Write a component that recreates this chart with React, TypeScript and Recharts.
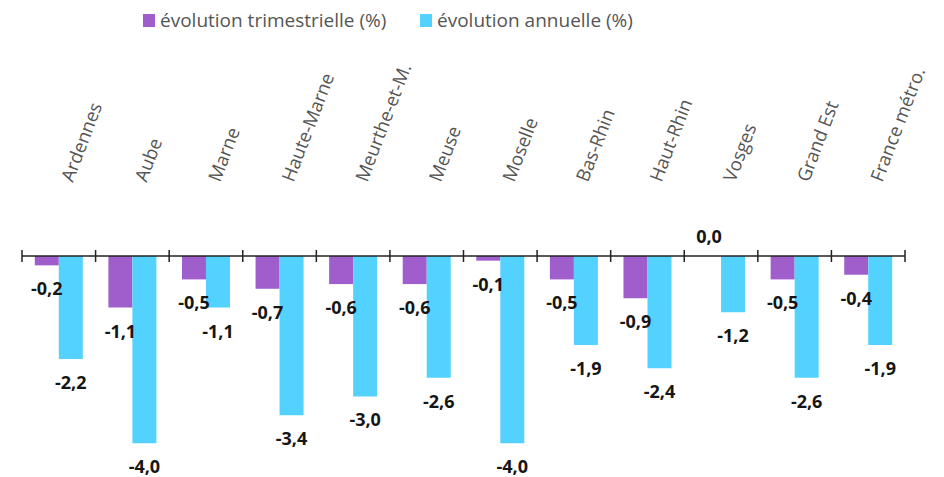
import React from 'react';
import { BarChart, Bar, XAxis, YAxis, Legend, LabelList } from 'recharts';

const categories = ['Ardennes', 'Aube', 'Marne', 'Haute-Marne', 'Meurthe-et-M.', 'Meuse', 'Moselle', 'Bas-Rhin', 'Haut-Rhin', 'Vosges', 'Grand Est', 'France métro.'];
const trimestrielle = [-0.2, -1.1, -0.5, -0.7, -0.6, -0.6, -0.1, -0.5, -0.9, 0.0, -0.5, -0.4];
const annuelle = [-2.2, -4.0, -1.1, -3.4, -3.0, -2.6, -4.0, -1.9, -2.4, -1.2, -2.6, -1.9];
const seriesNames = ['évolution trimestrielle (%)', 'évolution annuelle (%)'];

const data = categories.map((c, i) => ({ name: c, t: trimestrielle[i], a: annuelle[i] }));

const W = 944;
const H = 477;
const M = { top: 0, right: 39, bottom: 15, left: 22 };
const LEGEND_H = 36;
const PLOT_TOP = 256;
const BAND = (W - M.left - M.right) / categories.length;

const PURPLE = '#9F5ECC';
const CYAN = '#53D2FF';
const FONT = '"Open Sans", sans-serif';

const fmt = (v: number) => v.toFixed(1).replace('.', ',');

const ValueLabel = (props: any) => {
  const { x, y, width, height, value } = props;
  const cx = Number(x) + Number(width) / 2;
  const yy = Number(y);
  const hh = Number(height) || 0;
  const v = Number(value);
  let ly: number;
  if (Math.abs(v) < 1e-9) ly = PLOT_TOP - 20;
  else ly = Math.max(yy, yy + hh) + 23;
  return (
    <text x={cx} y={ly} textAnchor="middle" dominantBaseline="central" fontFamily={FONT} fontWeight={700} fontSize={18} fill="#161616">
      {fmt(v)}
    </text>
  );
};

const CatTick = (props: any) => {
  const { x, y, payload, index } = props;
  const left = x - BAND / 2;
  const isLast = index === categories.length - 1;
  const tx = x + 14;
  const ty = y - 73;
  return (
    <g>
      <line x1={left} x2={left} y1={y - 6} y2={y + 6} stroke="#222" strokeWidth={1.5} />
      {isLast && <line x1={left + BAND} x2={left + BAND} y1={y - 6} y2={y + 6} stroke="#222" strokeWidth={1.5} />}
      <text x={tx} y={ty} transform={`rotate(-69, ${tx}, ${ty})`} textAnchor="start" fontFamily={FONT} fontSize={18.5} fill="#555">
        {payload.value}
      </text>
    </g>
  );
};

const LegendContent = () => (
  <div style={{ position: 'relative', width: W, height: LEGEND_H, fontFamily: FONT, fontSize: 19, color: '#555' }}>
    {[{ c: PURPLE, l: 143, t: seriesNames[0] }, { c: CYAN, l: 420, t: seriesNames[1] }].map((it, i) => (
      <div key={i} style={{ position: 'absolute', left: it.l, top: 7, display: 'flex', alignItems: 'center', whiteSpace: 'nowrap' }}>
        <span style={{ display: 'inline-block', width: 12, height: 13, background: it.c, marginRight: 5 }} />
        <span style={{ lineHeight: '26px' }}>{it.t}</span>
      </div>
    ))}
  </div>
);

export default function App() {
  return (
    <div style={{ position: 'absolute', left: 0, top: 0, width: W, height: H, background: '#fff' }}>
      <BarChart width={W} height={H} data={data} margin={M} barGap={0} barCategoryGap="17.4%">
        <Legend verticalAlign="top" align="left" content={<LegendContent />} wrapperStyle={{ left: 0, top: 0, width: W, height: LEGEND_H }} />
        <XAxis
          dataKey="name"
          orientation="top"
          height={PLOT_TOP - LEGEND_H}
          interval={0}
          tickLine={false}
          tickSize={0}
          tickMargin={0}
          axisLine={{ stroke: '#222', strokeWidth: 1.5 }}
          tick={<CatTick />}
        />
        <YAxis hide domain={[-4.4, 0]} type="number" allowDataOverflow />
        <Bar dataKey="t" name={seriesNames[0]} fill={PURPLE} isAnimationActive={false} minPointSize={(v: any) => (Number(v) === 0 ? 0.01 : 0)}>
          <LabelList dataKey="t" content={<ValueLabel />} />
        </Bar>
        <Bar dataKey="a" name={seriesNames[1]} fill={CYAN} isAnimationActive={false}>
          <LabelList dataKey="a" content={<ValueLabel />} />
        </Bar>
      </BarChart>
    </div>
  );
}
